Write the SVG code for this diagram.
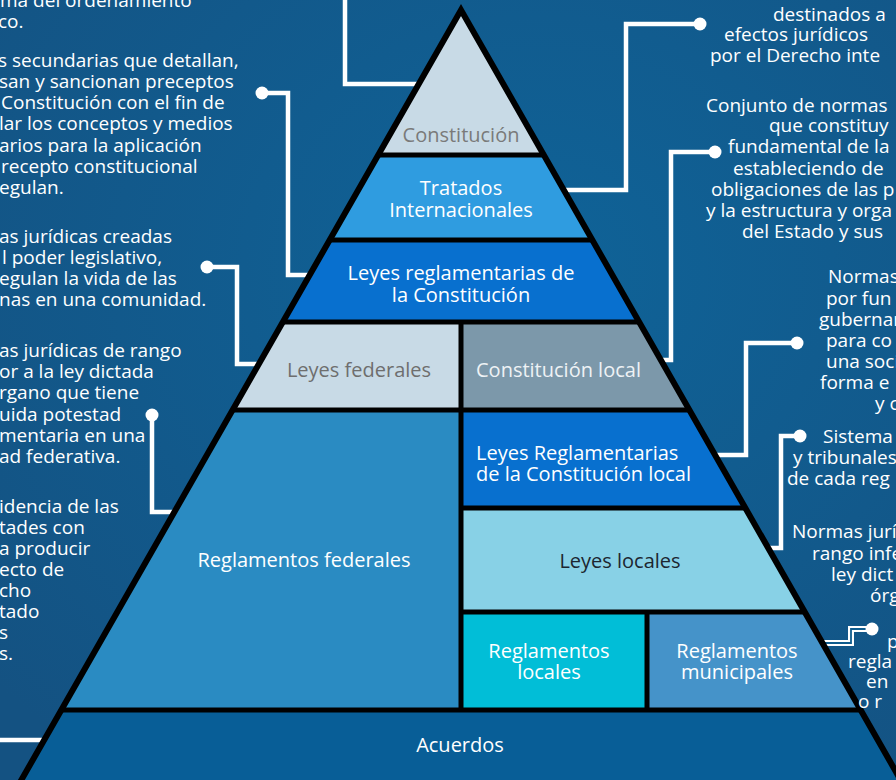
<svg xmlns="http://www.w3.org/2000/svg" width="896" height="780" viewBox="0 0 896 780">
<defs>
<radialGradient id="bg" cx="0.6" cy="0.35" r="0.8">
<stop offset="0" stop-color="#0f6398"/>
<stop offset="1" stop-color="#145282"/>
</radialGradient>
<style>
.side{fill:#ffffff;font-family:"Open Sans","Noto Sans",sans-serif;font-size:19px}
.lbl{font-family:"Open Sans","Noto Sans",sans-serif;font-size:20px;text-anchor:middle}
.lbs{font-family:"Open Sans","Noto Sans",sans-serif;font-size:20px}
.w{fill:#ffffff}
.conn{fill:none;stroke:#ffffff;stroke-width:4.5;stroke-linejoin:miter}
.dot{fill:#ffffff}
.edge{fill:none;stroke:#000000;stroke-width:6;stroke-linejoin:miter}
.sep{fill:none;stroke:#000000;stroke-width:5}
</style>
</defs>
<rect width="896" height="780" fill="url(#bg)"/>

<g id="connectors">
<path class="conn" d="M345,-5 V84 H420"/>
<path class="conn" d="M262,93 H288 V275 H311"/>
<circle class="dot" cx="262" cy="93" r="6.5"/>
<path class="conn" d="M207,267 H237 V364 H260"/>
<circle class="dot" cx="207" cy="267" r="6.5"/>
<path class="conn" d="M152,415 V512 H175"/>
<circle class="dot" cx="152" cy="415" r="6.5"/>
<path class="conn" d="M-5,740 H42"/>
<path class="conn" d="M700,24 H626 V190 H565"/>
<circle class="dot" cx="700" cy="24" r="6.5"/>
<path class="conn" d="M715,152 H671 V360 H660"/>
<circle class="dot" cx="715" cy="152" r="6.5"/>
<path class="conn" d="M797,343 H746 V455 H714"/>
<circle class="dot" cx="797" cy="343" r="6.5"/>
<path class="conn" d="M800,436 H781 V548 H768"/>
<circle class="dot" cx="800" cy="436" r="6.5"/>
<path d="M872,629 H851 V643 H824" fill="none" stroke="#ffffff" stroke-width="6"/>
<path d="M872,629 H851 V643 H824" fill="none" stroke="#0f5c8e" stroke-width="1.8"/>
<circle class="dot" cx="872" cy="629" r="6.5"/>
</g>

<g id="constitucion">
<polygon points="461,10 543.8,155 378.2,155" fill="#c8dae6"/>
<text class="lbl" x="461" y="142" fill="#7a7a7a">Constitución</text>
</g>
<g id="tratados">
<polygon points="378.2,155 543.8,155 592.3,240 329.7,240" fill="#2f9ce0"/>
<text class="lbl w" x="461" y="195">Tratados</text>
<text class="lbl w" x="461" y="217">Internacionales</text>
</g>
<g id="leyes-reglamentarias">
<polygon points="329.7,240 592.3,240 639.2,322 282.8,322" fill="#0870cf"/>
<text class="lbl w" x="461" y="280">Leyes reglamentarias de</text>
<text class="lbl w" x="461" y="302">la Constitución</text>
</g>
<g id="leyes-federales">
<polygon points="282.8,322 461,322 461,410 232.6,410" fill="#c8dae6"/>
<text class="lbl" x="359" y="377" fill="#6e6e6e">Leyes federales</text>
</g>
<g id="constitucion-local">
<polygon points="461,322 639.2,322 689.4,410 461,410" fill="#7c98aa"/>
<text class="lbs" x="476" y="377" fill="#eef2f5">Constitución local</text>
</g>
<g id="reglamentos-federales">
<polygon points="232.6,410 461,410 461,710 61.3,710" fill="#2a8bc2"/>
<text class="lbl w" x="304" y="567">Reglamentos federales</text>
</g>
<g id="leyes-reglamentarias-local">
<polygon points="461,410 689.4,410 745.4,508 461,508" fill="#0870cf"/>
<text class="lbs w" x="476" y="460">Leyes Reglamentarias</text>
<text class="lbs w" x="476" y="481">de la Constitución local</text>
</g>
<g id="leyes-locales">
<polygon points="461,508 745.4,508 804.7,612 461,612" fill="#88d1e6"/>
<text class="lbl" x="620" y="568" fill="#1c2630">Leyes locales</text>
</g>
<g id="reglamentos-locales">
<polygon points="461,612 647,612 647,710 461,710" fill="#01bed7"/>
<text class="lbl w" x="549" y="658">Reglamentos</text>
<text class="lbl w" x="549" y="679">locales</text>
</g>
<g id="reglamentos-municipales">
<polygon points="647,612 804.7,612 860.7,710 647,710" fill="#4593c9"/>
<text class="lbl w" x="737" y="658">Reglamentos</text>
<text class="lbl w" x="737" y="679">municipales</text>
</g>
<g id="acuerdos">
<polygon points="61.3,710 860.7,710 903.5,785 18.5,785" fill="#085e97"/>
<text class="lbl w" x="460" y="752">Acuerdos</text>
</g>

<g id="pyramid-lines">
<path class="sep" d="M378.2,155 H543.8 M329.7,240 H592.3 M282.8,322 H639.2 M232.6,410 H689.4 M461,508 H745.4 M461,612 H804.7 M61.3,710 H860.7 M461,322 V710 M647,612 V710"/>
<path class="edge" d="M18.5,785 L461,10 L903.5,785"/>
</g>

<g id="desc-left-1" class="side">
<text x="0" y="7">ma del ordenamiento</text>
<text x="-2" y="28">co.</text>
</g>
<g id="desc-left-2" class="side">
<text x="-2" y="67">s secundarias que detallan,</text>
<text x="-1" y="88">san y sancionan preceptos</text>
<text x="1" y="109">Constitución con el fin de</text>
<text x="-1" y="130">lar los conceptos y medios</text>
<text x="-1" y="152">arios para la aplicación</text>
<text x="1" y="173">recepto constitucional</text>
<text x="-1" y="194">egulan.</text>
</g>
<g id="desc-left-3" class="side">
<text x="-1" y="243">as jurídicas creadas</text>
<text x="2" y="264">l poder legislativo,</text>
<text x="-1" y="285">egulan la vida de las</text>
<text x="-1" y="306">nas en una comunidad.</text>
</g>
<g id="desc-left-4" class="side">
<text x="-1" y="357">as jurídicas de rango</text>
<text x="-1" y="378">or a la ley dictada</text>
<text x="-1" y="399">rgano que tiene</text>
<text x="-1" y="421">uida potestad</text>
<text x="-1" y="442">mentaria en una</text>
<text x="-1" y="463">ad federativa.</text>
</g>
<g id="desc-left-5" class="side">
<text x="-1" y="513">idencia de las</text>
<text x="-1" y="534">tades con</text>
<text x="-1" y="555">a producir</text>
<text x="-1" y="576">ecto de</text>
<text x="-1" y="597">cho</text>
<text x="-1" y="618">tado</text>
<text x="-1" y="639">s</text>
<text x="-1" y="660">s.</text>
</g>

<g id="desc-right-1" class="side">
<text x="773" y="21">destinados a</text>
<text x="724" y="41">efectos jurídicos</text>
<text x="710" y="62">por el Derecho inte</text>
</g>
<g id="desc-right-2" class="side">
<text x="706" y="112">Conjunto de normas</text>
<text x="769" y="132">que constituy</text>
<text x="728" y="153">fundamental de la</text>
<text x="733" y="175">estableciendo de</text>
<text x="711" y="196">obligaciones de las p</text>
<text x="706" y="217">y la estructura y orga</text>
<text x="742" y="238">del Estado y sus</text>
</g>
<g id="desc-right-3" class="side">
<text x="828" y="283">Normas</text>
<text x="826" y="305">por fun</text>
<text x="819" y="326">gubernar</text>
<text x="826" y="347">para co</text>
<text x="826" y="368">una soci</text>
<text x="820" y="389">forma e</text>
<text x="875" y="410">y c</text>
</g>
<g id="desc-right-4" class="side">
<text x="823" y="443">Sistema</text>
<text x="793" y="464">y tribunales</text>
<text x="787" y="485">de cada reg</text>
</g>
<g id="desc-right-5" class="side">
<text x="792" y="538">Normas jurí</text>
<text x="812" y="560">rango infe</text>
<text x="831" y="581">ley dict</text>
<text x="870" y="602">órg</text>
</g>
<g id="desc-right-6" class="side">
<text x="887" y="648">p</text>
<text x="848" y="668">regla</text>
<text x="866" y="688">en</text>
<text x="858" y="708">o r</text>
</g>
</svg>
